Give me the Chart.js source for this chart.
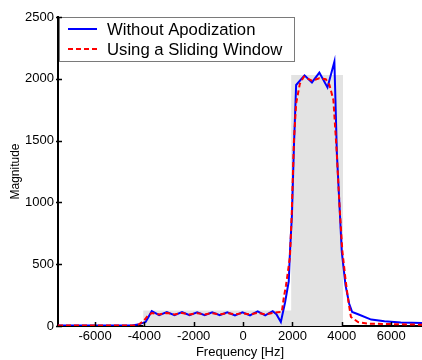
<!DOCTYPE html>
<html>
<head>
<meta charset="utf-8">
<script src="https://cdn.jsdelivr.net/npm/chart.js@4"></script>
<style>
  html, body { margin: 0; padding: 0; background: #fff; overflow: hidden; }
  canvas { display: block; }
</style>
</head>
<body>
<canvas id="spectrum" width="422" height="360"></canvas>
<script>
// Without Apodization (blue, solid)
const blueHz = [-7500, -4500, -4200, -3950, -3700, -3400, -3090, -2780, -2475, -2170, -1860, -1555, -1250, -945, -640, -330, -25, 280, 590, 895, 1200, 1350, 1530, 1700, 1850, 1900, 1980, 2060, 2150, 2490, 2790, 3090, 3420, 3700, 3760, 3800, 3900, 4000, 4150, 4300, 4420, 4660, 5190, 5730, 6390, 7250];
const blueMag = [5, 5, 15, 32, 120, 88, 112, 88, 112, 88, 110, 88, 110, 88, 110, 86, 110, 86, 118, 86, 120, 95, 32, 190, 360, 600, 900, 1450, 1950, 2028, 1971, 2050, 1930, 2138, 1700, 1400, 1000, 600, 330, 180, 113, 95, 52, 38, 28, 24];

// Using a Sliding Window (red, dashed)
const redHz = [-7500, -4400, -4200, -4010, -3850, -3700, -3400, -3090, -2780, -2475, -2170, -1860, -1555, -1250, -945, -640, -330, -25, 280, 590, 895, 1200, 1400, 1570, 1650, 1740, 1900, 1970, 2060, 2150, 2300, 2460, 2790, 3090, 3350, 3500, 3660, 3790, 3900, 4020, 4150, 4260, 4370, 4660, 5060, 7250];
const redMag = [5, 5, 15, 46, 85, 105, 94, 106, 94, 106, 94, 104, 94, 104, 94, 104, 94, 104, 94, 106, 94, 106, 112, 113, 230, 330, 560, 900, 1500, 1800, 1960, 2017, 1985, 2004, 1996, 1950, 1828, 1423, 1000, 613, 380, 208, 73, 32, 19, 10];

// shaded reference band
const bandHz = [-4050, -4050, 1950, 1950, 4050, 4050];
const bandMag = [0, 125, 125, 2030, 2030, 0];

const xTicks = [-6000, -4000, -2000, 0, 2000, 4000, 6000];
const yTicks = [0, 500, 1000, 1500, 2000, 2500];

const toPoints = (xs, ys) => xs.map((x, i) => ({ x: x, y: ys[i] }));

// legend drawn inside the plot, top-left
const boxLegend = {
    id: 'boxLegend',
    afterDatasetsDraw(chart) {
        const ctx = chart.ctx;
        const area = chart.chartArea;
        const entries = [chart.data.datasets[0], chart.data.datasets[1]];
        const x0 = area.left + 1, y0 = area.top;
        ctx.save();
        ctx.fillStyle = '#fff';
        ctx.fillRect(x0, y0, 235, 44);
        ctx.strokeStyle = '#7a7a7a';
        ctx.lineWidth = 1;
        ctx.strokeRect(x0 + 0.5, y0 + 0.5, 235, 44);
        ctx.font = '16.7px "Liberation Sans", Arial, sans-serif';
        ctx.textBaseline = 'middle';
        entries.forEach((ds, i) => {
            const y = y0 + 12 + i * 20;
            ctx.strokeStyle = ds.borderColor;
            ctx.lineWidth = ds.borderWidth;
            ctx.setLineDash(ds.borderDash || []);
            ctx.beginPath();
            ctx.moveTo(x0 + 9, y);
            ctx.lineTo(x0 + 38, y);
            ctx.stroke();
            ctx.setLineDash([]);
            ctx.fillStyle = '#000';
            ctx.fillText(ds.label, x0 + 48, y + 1);
        });
        ctx.restore();
    }
};

// short ticks pointing into the plot
const innerTicks = {
    id: 'innerTicks',
    afterDraw(chart) {
        const ctx = chart.ctx;
        const { x, y } = chart.scales;
        const area = chart.chartArea;
        ctx.save();
        ctx.strokeStyle = '#000';
        ctx.lineWidth = 1.5;
        ctx.beginPath();
        xTicks.forEach(v => {
            const px = Math.round(x.getPixelForValue(v)) + 0.5;
            ctx.moveTo(px, area.bottom);
            ctx.lineTo(px, area.bottom - 4);
        });
        yTicks.forEach(v => {
            const py = Math.round(y.getPixelForValue(v)) + 0.5;
            ctx.moveTo(area.left - 2, py);
            ctx.lineTo(area.left + 4, py);
        });
        ctx.stroke();
        ctx.restore();
    }
};

const tickFont = { family: '"Liberation Sans", Arial, sans-serif', size: 13 };

new Chart(document.getElementById('spectrum'), {
    type: 'line',
    data: {
        datasets: [
            {
                label: 'Without Apodization',
                data: toPoints(blueHz, blueMag),
                borderColor: '#0000ff',
                borderWidth: 2,
                pointRadius: 0,
                tension: 0,
                fill: false,
                order: 1
            },
            {
                label: 'Using a Sliding Window',
                data: toPoints(redHz, redMag),
                borderColor: '#ff0000',
                borderWidth: 2,
                borderDash: [5, 3],
                pointRadius: 0,
                tension: 0,
                fill: false,
                order: 0
            },
            {
                label: 'band',
                data: toPoints(bandHz, bandMag),
                borderWidth: 0,
                borderColor: 'rgba(0,0,0,0)',
                backgroundColor: '#e3e3e3',
                pointRadius: 0,
                tension: 0,
                fill: 'origin',
                order: 2
            }
        ]
    },
    options: {
        responsive: false,
        animation: false,
        devicePixelRatio: 1,
        layout: { padding: { top: 17, right: 0, left: 0, bottom: 0 } },
        plugins: {
            legend: { display: false },
            tooltip: { enabled: false }
        },
        scales: {
            x: {
                type: 'linear',
                min: -7500,
                max: 7250,
                afterBuildTicks: (scale) => { scale.ticks = xTicks.map(v => ({ value: v })); },
                afterFit: (scale) => { scale.height = 34; },
                border: { color: '#000', width: 2 },
                grid: { display: false, drawTicks: false },
                ticks: {
                    color: '#000',
                    font: tickFont,
                    padding: 3,
                    maxRotation: 0,
                    callback: v => String(v)
                },
                title: {
                    display: true,
                    text: 'Frequency [Hz]',
                    color: '#000',
                    font: tickFont,
                    padding: { top: 0, bottom: 0 }
                }
            },
            y: {
                min: 0,
                max: 2500,
                afterBuildTicks: (scale) => { scale.ticks = yTicks.map(v => ({ value: v })); },
                afterFit: (scale) => { scale.width = 58; },
                border: { color: '#000', width: 2 },
                grid: { display: false, drawTicks: false },
                ticks: {
                    color: '#000',
                    font: tickFont,
                    padding: 4,
                    callback: v => String(v)
                },
                title: {
                    display: true,
                    text: 'Magnitude',
                    color: '#000',
                    font: { family: '"Liberation Sans", Arial, sans-serif', size: 12 },
                    padding: { top: 8, bottom: 0 }
                }
            }
        }
    },
    plugins: [boxLegend, innerTicks]
});
</script>
</body>
</html>
